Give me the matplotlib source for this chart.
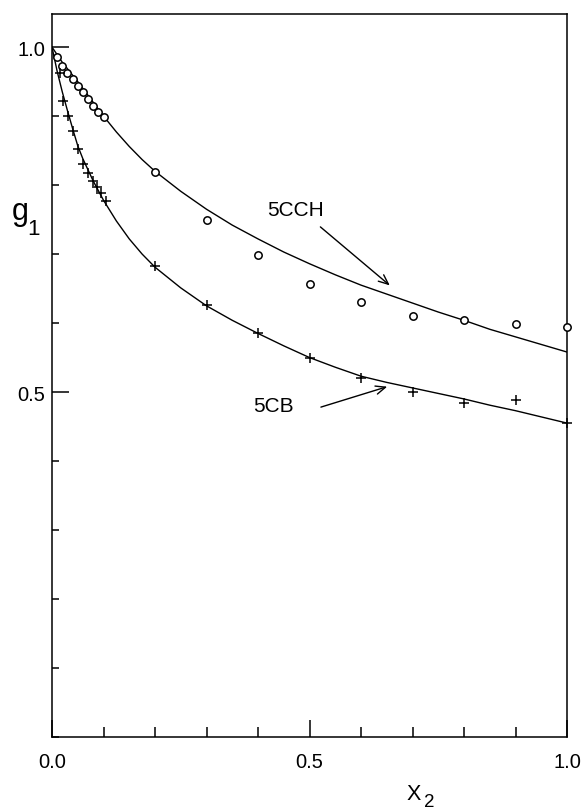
import matplotlib
matplotlib.use("Agg")
import matplotlib.pyplot as plt
from matplotlib.ticker import MultipleLocator

plt.rcParams['font.family'] = ['Liberation Sans', 'DejaVu Sans']

# ---- data ----
x_cch_pts = [0.01, 0.02, 0.03, 0.04, 0.05, 0.06, 0.07, 0.08, 0.09, 0.10,
             0.2, 0.3, 0.4, 0.5, 0.6, 0.7, 0.8, 0.9, 1.0]
g_cch_pts = [0.985, 0.972, 0.962, 0.954, 0.944, 0.935, 0.925, 0.915, 0.906, 0.898,
             0.819, 0.750, 0.699, 0.657, 0.631, 0.610, 0.604, 0.599, 0.595]

x_cb_pts = [0.015, 0.022, 0.032, 0.041, 0.050, 0.060, 0.070, 0.080, 0.088, 0.096, 0.104,
            0.2, 0.3, 0.4, 0.5, 0.6, 0.7, 0.8, 0.9, 1.0]
g_cb_pts = [0.963, 0.922, 0.900, 0.879, 0.852, 0.830, 0.818, 0.806, 0.797, 0.789, 0.777,
            0.683, 0.626, 0.585, 0.549, 0.521, 0.500, 0.484, 0.489, 0.455]

x_cch_curve = [0.0, 0.02, 0.05, 0.1, 0.125, 0.15, 0.175, 0.2, 0.25, 0.3, 0.35, 0.4, 0.45, 0.5,
               0.55, 0.6, 0.65, 0.7, 0.75, 0.8, 0.85, 0.9, 0.95, 1.0]
g_cch_curve = [1.0, 0.978, 0.950, 0.900, 0.877, 0.856, 0.837, 0.820, 0.791, 0.765, 0.742, 0.722,
               0.703, 0.686, 0.670, 0.655, 0.642, 0.629, 0.616, 0.604, 0.591, 0.580, 0.569, 0.558]

x_cb_curve = [0.0, 0.01, 0.02, 0.03, 0.04, 0.05, 0.06, 0.08, 0.10, 0.125, 0.15, 0.175, 0.2,
              0.25, 0.3, 0.35, 0.4, 0.45, 0.5, 0.55, 0.6, 0.65, 0.7, 0.75, 0.8, 0.85, 0.9, 0.95, 1.0]
g_cb_curve = [1.0, 0.965, 0.935, 0.908, 0.882, 0.857, 0.838, 0.806, 0.778, 0.748, 0.722, 0.700, 0.681,
              0.651, 0.625, 0.604, 0.585, 0.567, 0.550, 0.536, 0.523, 0.514, 0.506, 0.498, 0.490,
              0.481, 0.473, 0.464, 0.455]

x_ticks_major = [0.0, 0.5, 1.0]
x_tick_labels = ["0.0", "0.5", "1.0"]
y_ticks_major = [0.5, 1.0]
y_tick_labels = ["0.5", "1.0"]

fig = plt.figure(figsize=(5.82, 8.12), dpi=100)
ax = fig.add_axes([52/582, (812-738)/812, (567-52)/582, (738-15)/812])

ax.plot(x_cch_curve, g_cch_curve, color='black', lw=1.0, zorder=2)
ax.plot(x_cb_curve, g_cb_curve, color='black', lw=1.0, zorder=2)
ax.plot(x_cch_pts, g_cch_pts, linestyle='none', marker='o', ms=5.3,
        mfc='white', mec='black', mew=1.1, zorder=3, clip_on=False)
ax.plot(x_cb_pts, g_cb_pts, linestyle='none', marker='+', ms=6.5,
        mec='black', mew=1.1, zorder=3, clip_on=False)

ax.set_xlim(0, 1.0)
ax.set_ylim(0, 1.048)

ax.set_xticks(x_ticks_major)
ax.set_xticklabels(x_tick_labels)
ax.set_yticks(y_ticks_major)
ax.set_yticklabels(y_tick_labels)
ax.xaxis.set_minor_locator(MultipleLocator(0.1))
ax.yaxis.set_minor_locator(MultipleLocator(0.1))

ax.tick_params(axis='both', which='both', direction='in', top=False, right=False,
               labelsize=14.5, width=1.1, color='black')
ax.tick_params(axis='y', which='major', length=12, pad=5)
ax.tick_params(axis='y', which='minor', length=5)
ax.tick_params(axis='x', which='major', length=12, pad=11)
ax.tick_params(axis='x', which='minor', length=7)

for sp in ax.spines.values():
    sp.set_linewidth(1.1)

# annotations
ax.text(0.417, 0.765, "5CCH", fontsize=15, va='center', ha='left')
ax.annotate("", xy=(0.660, 0.652), xytext=(0.517, 0.742),
            arrowprops=dict(arrowstyle='->,head_length=0.7,head_width=0.3', lw=1.0, color='black'))
ax.text(0.390, 0.480, "5CB", fontsize=15, va='center', ha='left')
ax.annotate("", xy=(0.656, 0.509), xytext=(0.517, 0.477),
            arrowprops=dict(arrowstyle='->,head_length=0.7,head_width=0.3', lw=1.0, color='black'))

# axis labels
fig.text(12/582, (812-220)/812, "g", fontsize=22, ha='left', va='baseline')
fig.text(27/582, (812-235)/812, "1", fontsize=16, ha='left', va='baseline')
fig.text(414/582, (812-795)/812, "X", fontsize=15.5, ha='center', va='center')
fig.text(429/582, (812-803)/812, "2", fontsize=13.5, ha='center', va='center')

fig.savefig("out.png", dpi=100)
